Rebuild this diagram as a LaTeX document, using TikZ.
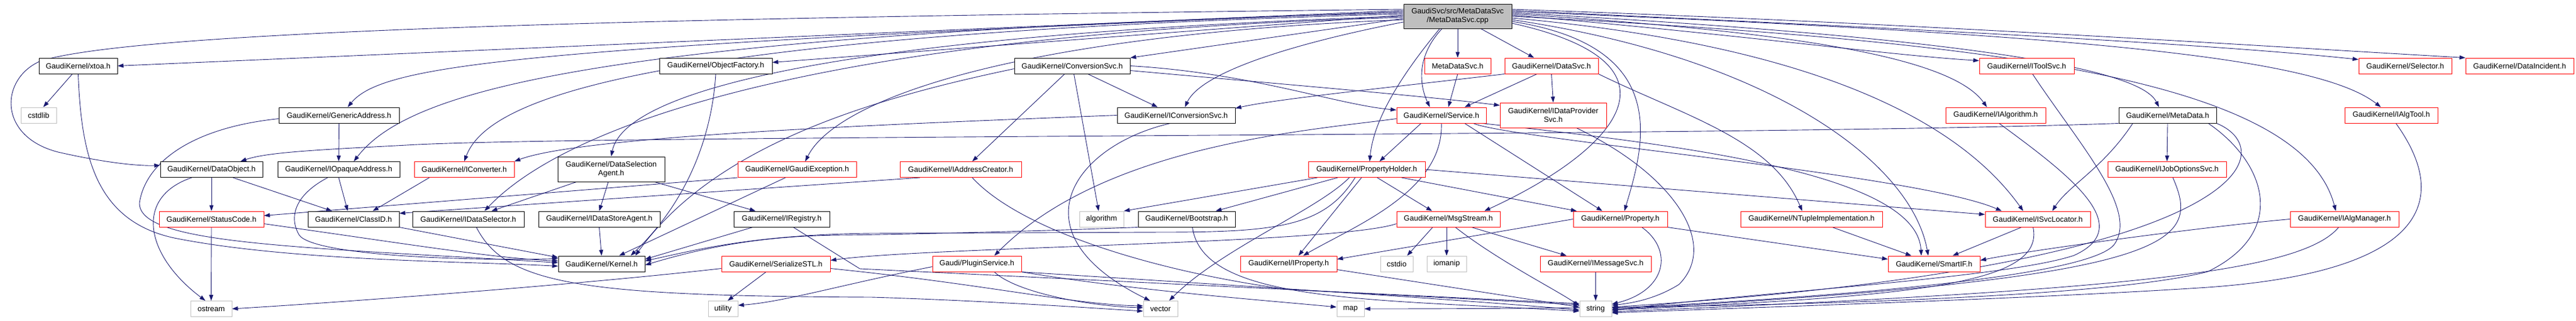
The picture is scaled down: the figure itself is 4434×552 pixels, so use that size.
\documentclass[tikz,border=0pt]{standalone}
\usepackage{fontspec}
\setmainfont{Liberation Sans}
\usetikzlibrary{arrows.meta}
\pgfdeclarelayer{bg}
\pgfsetlayers{bg,main}
\definecolor{edgec}{HTML}{191970}
\definecolor{sysgray}{HTML}{BFBFBF}
\definecolor{redb}{HTML}{FF0000}
\newcommand\fnt{\fontsize{13}{15}\selectfont}
\newcommand\GNode[6]{\node[#1,minimum width=#5pt] (#2) at (#3,-#4) {#6};}
\begin{document}
\begin{tikzpicture}[x=1pt,y=1pt,
  nbase/.style={rectangle,fill=white,inner xsep=3pt,inner ysep=0pt,minimum height=27pt,font=\fnt,align=center,line width=1pt},
  bk/.style={nbase,draw=black},
  rd/.style={nbase,draw=redb},
  gy/.style={nbase,draw=sysgray},
  rt/.style={nbase,draw=black,fill=sysgray,minimum height=42pt},
  edg/.style={draw=edgec,line width=0.9pt,-{Triangle[length=10pt,width=7pt]}}]
\useasboundingbox (0,0) rectangle (4434,-552);
% root
\GNode{rt}{root}{2509}{28}{186}{GaudiSvc/src/MetaDataSvc\\/MetaDataSvc.cpp}
% row 1
\GNode{bk}{xtoa}{134.5}{113.5}{135}{GaudiKernel/xtoa.h}
\GNode{bk}{objf}{1232}{113.5}{194}{GaudiKernel/ObjectFactory.h}
\GNode{bk}{convsvc}{1845.5}{113.5}{199}{GaudiKernel/ConversionSvc.h}
\GNode{rd}{mdsvch}{2509}{113.5}{114}{MetaDataSvc.h}
\GNode{rd}{datasvc}{2670.5}{113.5}{161}{GaudiKernel/DataSvc.h}
\GNode{rd}{itoolsvc}{3488.5}{113.5}{163}{GaudiKernel/IToolSvc.h}
\GNode{rd}{selector}{4140}{113.5}{160}{GaudiKernel/Selector.h}
\GNode{rd}{dataincident}{4337}{113.5}{186}{GaudiKernel/DataIncident.h}
% row 2
\GNode{gy}{cstdlib}{66.5}{198.5}{61}{cstdlib}
\GNode{bk}{genaddr}{583.5}{198.5}{207}{GaudiKernel/GenericAddress.h}
\GNode{bk}{iconvsvc}{2024.5}{198.5}{203}{GaudiKernel/IConversionSvc.h}
\GNode{rd}{service}{2481}{198.5}{154}{GaudiKernel/Service.h}
\node[rd,minimum width=183pt,minimum height=43pt] (idataprov) at (2673.5,-198.5) {GaudiKernel/IDataProvider\\Svc.h};
\GNode{rd}{ialgorithm}{3435}{198.5}{172}{GaudiKernel/IAlgorithm.h}
\GNode{bk}{metadata}{3731}{198.5}{168}{GaudiKernel/MetaData.h}
\GNode{rd}{ialgtool}{4116}{198.5}{160}{GaudiKernel/IAlgTool.h}
% row 3
\GNode{bk}{dataobject}{364}{292}{176}{GaudiKernel/DataObject.h}
\GNode{bk}{iopaque}{583}{292}{210}{GaudiKernel/IOpaqueAddress.h}
\GNode{rd}{iconverter}{799}{292}{172}{GaudiKernel/IConverter.h}
\node[bk,minimum width=184pt,minimum height=43pt] (dsagent) at (1052,-291.5) {GaudiKernel/DataSelection\\Agent.h};
\GNode{rd}{gexception}{1372}{292}{204}{GaudiKernel/GaudiException.h}
\GNode{rd}{iaddrcreator}{1653.5}{292}{209}{GaudiKernel/IAddressCreator.h}
\GNode{rd}{propholder}{2352.5}{292}{201}{GaudiKernel/PropertyHolder.h}
\GNode{rd}{ijobopt}{3730}{292}{204}{GaudiKernel/IJobOptionsSvc.h}
% row 4
\GNode{rd}{statuscode}{364}{377.5}{180}{GaudiKernel/StatusCode.h}
\GNode{bk}{classid}{608.5}{377.5}{157}{GaudiKernel/ClassID.h}
\GNode{bk}{idataselector}{806}{377.5}{192}{GaudiKernel/IDataSelector.h}
\GNode{bk}{idatastoreagent}{1031.5}{377.5}{209}{GaudiKernel/IDataStoreAgent.h}
\GNode{bk}{iregistry}{1345.5}{377.5}{165}{GaudiKernel/IRegistry.h}
\GNode{gy}{algorithm}{1896}{377.5}{76}{algorithm}
\GNode{bk}{bootstrap}{2042.5}{377.5}{167}{GaudiKernel/Bootstrap.h}
\GNode{rd}{msgstream}{2493}{377.5}{178}{GaudiKernel/MsgStream.h}
\GNode{rd}{property}{2789}{377.5}{162}{GaudiKernel/Property.h}
\GNode{rd}{ntuple}{3118}{377.5}{244}{GaudiKernel/NTupleImplementation.h}
\GNode{rd}{isvclocator}{3507.5}{377.5}{181}{GaudiKernel/ISvcLocator.h}
\GNode{rd}{ialgmanager}{4035.5}{377.5}{187}{GaudiKernel/IAlgManager.h}
% row 5
\GNode{bk}{kernel}{1035.5}{454.5}{149}{GaudiKernel/Kernel.h}
\GNode{rd}{serialize}{1335.5}{454.5}{187}{GaudiKernel/SerializeSTL.h}
\GNode{rd}{plugin}{1681.5}{454.5}{153}{Gaudi/PluginService.h}
\GNode{rd}{iproperty}{2218}{454.5}{166}{GaudiKernel/IProperty.h}
\GNode{gy}{cstdio}{2404}{454.5}{56}{cstdio}
\GNode{gy}{iomanip}{2490}{454.5}{68}{iomanip}
\GNode{rd}{imsgsvc}{2746.5}{454.5}{191}{GaudiKernel/IMessageSvc.h}
\GNode{rd}{smartif}{3329}{454.5}{158}{GaudiKernel/SmartIF.h}
% row 6
\GNode{gy}{ostream}{363.5}{532}{71}{ostream}
\GNode{gy}{utility}{1244.5}{532}{51}{utility}
\GNode{gy}{vector}{1997.5}{532}{59}{vector}
\GNode{gy}{map}{2324.5}{532}{47}{map}
\GNode{gy}{string}{2746.5}{532}{55}{string}

\begin{pgfonlayer}{bg}
% ---- root, left side
\draw[edg] ([yshift=12pt]root.west) .. controls (1200,-30) and (250,-50) .. (70,-105) .. controls (0,-135) and (-5,-235) .. (100,-262) .. controls (170,-278) and (230,-286) .. ([yshift=7pt]dataobject.west);
\draw[edg] ([yshift=10pt]root.west) -- (xtoa.east);
\draw[edg] ([yshift=8pt]root.west) .. controls (900,-80) and (660,-110) .. ([xshift=15pt]genaddr.north);
\draw[edg] ([yshift=6pt]root.west) .. controls (1000,-60) and (700,-160) .. ([xshift=26pt]iopaque.north);
\draw[edg] ([yshift=4pt]root.west) .. controls (1100,-60) and (840,-170) .. (iconverter.north);
\draw[edg] ([yshift=2pt]root.west) -- ([yshift=6pt]objf.east);
\draw[edg] (root.west) .. controls (1300,-65) and (1070,-180) .. (dsagent.north);
\draw[edg] ([yshift=-2pt]root.west) .. controls (1350,-60) and (960,-230) .. ([xshift=28pt]idataselector.north);
\draw[edg] ([yshift=-4pt]root.west) -- (convsvc.north east);
\draw[edg] ([yshift=-6pt]root.west) .. controls (1750,-60) and (1440,-170) .. ([xshift=14pt]gexception.north);
\draw[edg] ([yshift=-10pt]root.west) .. controls (2250,-70) and (2070,-120) .. ([xshift=15pt]iconvsvc.north);
% ---- root, bottom
\draw[edg] ([xshift=-27pt]root.south) .. controls (2435,-100) and (2445,-150) .. ([xshift=-20pt]service.north);
\draw[edg] ([xshift=-31pt]root.south) .. controls (2420,-120) and (2365,-200) .. ([xshift=5pt]propholder.north);
\draw[edg] (root.south) -- (mdsvch.north);
\draw[edg] ([xshift=40pt]root.south) -- ([xshift=-30pt]datasvc.north);
% ---- root, right side
\draw[edg] ([yshift=12pt]root.east) .. controls (3300,-40) and (3900,-80) .. (dataincident.north west);
\draw[edg] ([yshift=10pt]root.east) .. controls (3300,-50) and (3800,-75) .. ([yshift=11pt]selector.west);
\draw[edg] ([yshift=8pt]root.east) .. controls (3600,-60) and (3990,-100) .. ([xshift=-18pt]ialgtool.north);
\draw[edg] ([yshift=6pt]root.east) .. controls (3300,-60) and (3680,-110) .. ([xshift=-15pt]metadata.north);
\draw[edg] ([yshift=4pt]root.east) .. controls (3100,-55) and (3360,-100) .. ([xshift=-15pt]ialgorithm.north);
\draw[edg] ([yshift=2pt]root.east) .. controls (3000,-60) and (3250,-95) .. ([yshift=9pt]itoolsvc.west);
\draw[edg] (root.east) .. controls (3400,-70) and (3960,-130) .. ([xshift=-15pt]ialgmanager.north);
\draw[edg] ([yshift=-3pt]root.east) .. controls (3150,-80) and (3380,-220) .. ([xshift=-25pt]isvclocator.north);
\draw[edg] ([yshift=-6pt]root.east) .. controls (3050,-100) and (3290,-280) .. ([xshift=-10pt]smartif.north);
\draw[edg] ([yshift=-9pt]root.east) .. controls (2880,-80) and (2830,-250) .. ([xshift=7pt]property.north);
\draw[edg] ([yshift=-12pt]root.east) .. controls (2920,-110) and (2780,-260) .. ([xshift=62pt]msgstream.north);
% ---- row 1 sources
\draw[edg] ([xshift=-10pt]xtoa.south) -- ([xshift=8pt]cstdlib.north);
\draw[edg] (xtoa.south) .. controls (140,-260) and (160,-380) .. (300,-410) .. controls (500,-450) and (800,-450) .. ([yshift=-4pt]kernel.west);
\draw[edg] (objf.south) .. controls (1225,-240) and (1180,-350) .. ([xshift=50pt]kernel.north);
\draw[edg] ([xshift=-13pt]convsvc.south) -- ([xshift=20pt]iaddrcreator.north);
\draw[edg] ([xshift=3pt]convsvc.south) -- ([xshift=-5pt]algorithm.north);
\draw[edg] ([xshift=27pt]convsvc.south) -- ([xshift=-32pt]iconvsvc.north);
\draw[edg] (convsvc.east) .. controls (2150,-125) and (2300,-180) .. ([yshift=9pt]service.west);
\draw[edg] ([yshift=-8pt]convsvc.east) .. controls (2150,-140) and (2450,-165) .. ([yshift=17pt]idataprov.west);
\draw[edg] ([yshift=-5pt]convsvc.west) .. controls (1500,-170) and (1230,-250) .. ([xshift=58pt]kernel.north);
\draw[edg] (mdsvch.south) -- ([xshift=12pt]service.north);
\draw[edg] ([xshift=-25pt]datasvc.south) -- ([xshift=40pt]service.north);
\draw[edg] (datasvc.south) -- (idataprov.north);
\draw[edg] (datasvc.south west) .. controls (2400,-150) and (2200,-170) .. ([yshift=12pt]iconvsvc.east);
\draw[edg] (datasvc.south east) .. controls (2900,-200) and (3050,-240) .. ([xshift=-16pt]ntuple.north);
\draw[edg] ([xshift=10pt]itoolsvc.south) .. controls (3580,-250) and (3680,-360) .. (3640,-420) .. controls (3600,-480) and (3100,-515) .. ([yshift=1pt]string.east);
% ---- row 2 sources
\draw[edg] (genaddr.south) -- (iopaque.north);
\draw[edg] ([yshift=-6pt]genaddr.west) .. controls (330,-220) and (250,-280) .. (240,-350) .. controls (240,-420) and (500,-425) .. ([yshift=2pt]kernel.west);
\draw[edg] (iconvsvc.west) .. controls (1500,-215) and (1000,-235) .. (iconverter.north east);
\draw[edg] ([xshift=-10pt]iconvsvc.south) .. controls (1850,-250) and (1740,-400) .. ([xshift=-18pt]vector.north);
\draw[edg] ([xshift=-35pt]service.south) -- ([xshift=22pt]propholder.north);
\draw[edg] (service.south) .. controls (2485,-330) and (2330,-390) .. ([xshift=25pt]iproperty.north);
\draw[edg] ([xshift=40pt]service.south) -- ([xshift=-31pt]property.north);
\draw[edg] ([xshift=55pt]service.south) .. controls (2600,-240) and (3300,-300) .. ([xshift=-62pt]isvclocator.north);
\draw[edg] ([xshift=70pt]service.south) .. controls (2900,-250) and (3300,-300) .. ([xshift=-22pt]smartif.north);
\draw[edg] ([yshift=-6pt]service.west) .. controls (2250,-225) and (1900,-250) .. ([xshift=30pt]plugin.north);
\draw[edg] ([xshift=40pt]idataprov.south) .. controls (2880,-300) and (2960,-420) .. (2890,-490) .. controls (2850,-515) and (2810,-522) .. ([yshift=6pt]string.east);
\draw[edg] ([xshift=6pt]ialgorithm.south) .. controls (3560,-300) and (3680,-390) .. (3570,-440) .. controls (3450,-480) and (3000,-505) .. ([yshift=-3pt]string.east);
\draw[edg] (metadata.south) -- (ijobopt.north);
\draw[edg] ([xshift=-60pt]metadata.south) .. controls (3620,-290) and (3560,-320) .. ([xshift=25pt]isvclocator.north);
\draw[edg] (metadata.south east) .. controls (3930,-260) and (3880,-460) .. ([yshift=3pt]string.east);
\draw[edg] ([xshift=70pt]metadata.south) .. controls (3900,-280) and (3940,-400) .. (3800,-468) .. controls (3600,-520) and (2900,-532) .. (map.east);
\draw[edg] (metadata.south west) .. controls (3000,-236) and (1000,-232) .. (700,-250) .. controls (550,-258) and (460,-262) .. ([xshift=50pt]dataobject.north);
\draw[edg] ([xshift=8pt]ialgtool.south) .. controls (4230,-360) and (4150,-470) .. (3800,-495) .. controls (3500,-515) and (3000,-530) .. ([yshift=-7pt]string.east);
% ---- row 3 sources
\draw[edg] (dataobject.south) -- (statuscode.north);
\draw[edg] ([xshift=37pt]dataobject.south) -- ([xshift=-37pt]classid.north);
\draw[edg] ([xshift=-34pt]dataobject.south) .. controls (230,-340) and (250,-440) .. ([xshift=-10pt]ostream.north);
\draw[edg] (iopaque.south) -- ([xshift=-10pt]classid.north);
\draw[edg] ([xshift=-19pt]iopaque.south) .. controls (500,-340) and (500,-380) .. (515,-405) .. controls (540,-440) and (800,-450) .. ([yshift=9pt]kernel.west);
\draw[edg] ([xshift=-60pt]iconverter.south) -- ([xshift=33pt]classid.north);
\draw[edg] ([xshift=-60pt]dsagent.south) -- ([xshift=40pt]idataselector.north);
\draw[edg] ([xshift=-5pt]dsagent.south) -- (idatastoreagent.north);
\draw[edg] ([xshift=75pt]dsagent.south) -- ([xshift=-45pt]iregistry.north);
\draw[edg] ([xshift=-20pt]gexception.south) -- ([xshift=30pt]kernel.north);
\draw[edg] (gexception.south west) -- ([yshift=6pt]statuscode.east);
\draw[edg] ([xshift=-70pt]iaddrcreator.south) -- ([yshift=10pt]classid.east);
\draw[edg] ([xshift=20pt]iaddrcreator.south) .. controls (1760,-400) and (2000,-470) .. (2220,-499) -- ([yshift=7pt]string.west);
\draw[edg] ([xshift=18pt]propholder.south) -- ([xshift=-28pt]msgstream.north);
\draw[edg] ([xshift=60pt]propholder.south) -- ([xshift=-75pt]property.north);
\draw[edg] ([xshift=-9pt]propholder.south) -- ([xshift=17pt]iproperty.north);
\draw[edg] (propholder.east) -- ([yshift=8pt]isvclocator.west);
\draw[edg] ([xshift=-50pt]propholder.south) -- ([xshift=50pt]bootstrap.north);
\draw[edg] ([xshift=-85pt]propholder.south) -- (algorithm.north east);
\draw[edg] ([xshift=-30pt]propholder.south) .. controls (2270,-360) and (2100,-430) .. ([xshift=15pt]vector.north);
\draw[edg] ([xshift=-20pt]propholder.south) .. controls (2280,-390) and (2200,-400) .. (2000,-400) -- (1500,-402) .. controls (1300,-404) and (1200,-430) .. ([yshift=5pt]kernel.east);
\draw[edg] ([xshift=10pt]ijobopt.south) .. controls (3790,-420) and (3750,-480) .. ([yshift=-1pt]string.east);
% ---- row 4 sources
\draw[edg] (statuscode.south) -- (ostream.north);
\draw[edg] ([yshift=-8pt]statuscode.east) .. controls (700,-420) and (850,-445) .. ([yshift=5pt]kernel.west);
\draw[edg] (classid.south east) -- ([yshift=11pt]kernel.west);
\draw[edg] ([xshift=14pt]idataselector.south) .. controls (870,-490) and (1000,-510) .. (1500,-512) .. controls (1700,-518) and (1900,-532) .. ([yshift=-4pt]vector.west);
\draw[edg] (idatastoreagent.south) -- (kernel.north);
\draw[edg] ([xshift=-50pt]iregistry.south) -- ([yshift=8pt]kernel.east);
\draw[edg] ([xshift=20pt]iregistry.south) -- (1480,-463) -- ([yshift=9pt]string.west);
\draw[edg] (bootstrap.south west) .. controls (1800,-398) and (1550,-404) .. (1450,-405) .. controls (1300,-406) and (1200,-430) .. ([yshift=-2pt]kernel.east);
\draw[edg] ([xshift=10pt]bootstrap.south) .. controls (2070,-520) and (2350,-515) .. ([yshift=-4pt]string.west);
\draw[edg] ([xshift=-27pt]msgstream.south) -- ([xshift=18pt]cstdio.north);
\draw[edg] ([xshift=-3pt]msgstream.south) -- (iomanip.north);
\draw[edg] ([xshift=40pt]msgstream.south) -- ([xshift=-50pt]imsgsvc.north);
\draw[edg] ([xshift=12pt]msgstream.south) .. controls (2580,-450) and (2680,-500) .. ([yshift=5pt]string.west);
\draw[edg] ([yshift=-8pt]msgstream.west) .. controls (2300,-420) and (1600,-425) .. ([yshift=6pt]serialize.east);
\draw[edg] (property.west) -- ([yshift=8pt]iproperty.east);
\draw[edg] (property.south east) -- ([yshift=8pt]smartif.west);
\draw[edg] ([xshift=37pt]property.south) .. controls (2880,-430) and (2870,-500) .. ([yshift=8pt]string.east);
\draw[edg] ([xshift=36pt]ntuple.south) -- ([xshift=-39pt]smartif.north);
\draw[edg] ([xshift=-28pt]isvclocator.south) -- ([xshift=32pt]smartif.north);
\draw[edg] ([xshift=-8pt]isvclocator.south) .. controls (3520,-490) and (3300,-510) .. ([yshift=-2pt]string.east);
\draw[edg] (ialgmanager.west) .. controls (3800,-390) and (3500,-430) .. ([yshift=6pt]smartif.east);
\draw[edg] ([xshift=-10pt]ialgmanager.south) .. controls (3960,-470) and (3650,-500) .. ([yshift=-5pt]string.east);
% ---- row 5 sources
\draw[edg] ([yshift=-10pt]iproperty.east) -- ([yshift=3pt]string.west);
\draw[edg] (imsgsvc.south) -- (string.north);
\draw[edg] (plugin.south east) .. controls (2100,-490) and (2500,-515) .. ([yshift=-2pt]string.west);
\draw[edg] ([xshift=30pt]plugin.south) .. controls (1750,-505) and (1880,-528) .. ([yshift=2pt]vector.west);
\draw[edg] (plugin.south east) .. controls (1950,-500) and (2150,-515) .. ([yshift=3pt]map.west);
\draw[edg] ([yshift=-5pt]plugin.west) .. controls (1450,-490) and (1350,-520) .. ([yshift=6pt]utility.east);
\draw[edg] ([xshift=-17pt]serialize.south) -- ([xshift=8pt]utility.north);
\draw[edg] ([yshift=-8pt]serialize.west) .. controls (1000,-490) and (600,-520) .. (ostream.east);
\draw[edg] ([yshift=-8pt]serialize.east) .. controls (1700,-490) and (1850,-525) .. ([yshift=5pt]vector.west);
\end{pgfonlayer}
\end{tikzpicture}
\end{document}
